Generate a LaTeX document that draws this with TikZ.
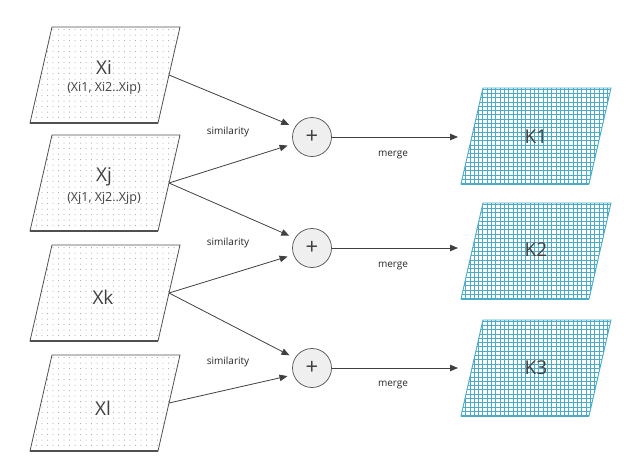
\documentclass[tikz,border=0pt]{standalone}
\usepackage{fontspec}
\setmainfont{Open Sans}
\usetikzlibrary{arrows.meta,calc}
\definecolor{tealg}{HTML}{4BACC6}
\definecolor{txt}{HTML}{404040}
\definecolor{edge}{HTML}{505050}
\definecolor{dotc}{HTML}{9A9A9A}
\definecolor{circfill}{HTML}{EFEFEF}
\begin{document}
\begin{tikzpicture}[x=1pt,y=-1pt,
  bigtxt/.style={text=txt,font=\fontsize{19}{19}\selectfont,inner sep=0pt},
  subtxt/.style={text=txt,font=\fontsize{12.5}{12.5}\selectfont,inner sep=0pt},
  lbl/.style={text=black!85,font=\fontsize{10}{10}\selectfont,inner sep=0pt},
  plusnode/.style={circle,draw=edge,fill=circfill,line width=0.7pt,minimum size=39pt,inner sep=0pt,text=txt,font=\fontsize{22}{22}\selectfont},
  conn/.style={draw=txt,line width=0.8pt,-{Triangle[length=8pt,width=6.5pt]},shorten >=6pt},
  mconn/.style={draw=txt,line width=0.8pt,-{Triangle[length=8pt,width=6.5pt]},shorten >=14pt},
]
\useasboundingbox (0,0) rectangle (633,474);

% left parallelograms
\foreach \n/\t in {xi/27,xj/135,xk/245,xl/355}{
  \begin{scope}
    \clip (52,\t) -- (180,\t) -- (158,\t+96) -- (30,\t+96) -- cycle;
    \foreach \i in {0,...,27}{
      \foreach \j in {0,...,17}{
        \fill[dotc] (31+\i*5.5,\t+2.5+\j*5.5) circle (0.5pt);
      }
    }
  \end{scope}
  \draw[edge,line width=0.8pt] (52,\t) -- (180,\t) -- (158,\t+96) -- (30,\t+96) -- cycle;
  \draw[edge,line width=2pt] (30,\t+96) -- (158,\t+96);
  \coordinate (\n-e) at (169,\t+48);
}

% right parallelograms
\foreach \n/\t in {k1/88,k2/203,k3/320}{
  \begin{scope}
    \clip (483,\t) -- (611,\t) -- (589,\t+96) -- (461,\t+96) -- cycle;
    \foreach \i in {0,...,37}{
      \draw[tealg,line width=0.8pt] (457+\i*4.3,\t-2) -- (457+\i*4.3,\t+98);
    }
    \foreach \j in {0,...,22}{
      \draw[tealg,line width=0.8pt] (455,\t+1+\j*4.3) -- (615,\t+1+\j*4.3);
    }
  \end{scope}
  \draw[tealg,line width=0.9pt] (483,\t) -- (611,\t) -- (589,\t+96) -- (461,\t+96) -- cycle;
  \draw[tealg,line width=2pt] (461,\t+96) -- (589,\t+96);
  \coordinate (\n-w) at (472,\t+48);
}

% texts in left shapes
\node[bigtxt] (xi) at (104,68) {Xi};
\node[subtxt] (xis) at (104,88) {(Xi1, Xi2..Xip)};
\node[bigtxt] (xj) at (104,177) {Xj};
\node[subtxt] (xjs) at (104,198) {(Xj1, Xj2..Xjp)};
\node[bigtxt] (xk) at (103,297) {Xk};
\node[bigtxt] (xl) at (103,408) {Xl};

% texts in right shapes
\node[bigtxt] (k1t) at (536,137) {K1};
\node[bigtxt] (k2t) at (536,250) {K2};
\node[bigtxt] (k3t) at (536,368) {K3};

% circles
\node[plusnode] (c1) at (312,137) {+};
\node[plusnode] (c2) at (312,248) {+};
\node[plusnode] (c3) at (312,368) {+};

% connectors
\draw[conn] (xi-e) -- (c1.150);
\draw[conn] (xj-e) -- (c1.200);
\draw[conn] (xj-e) -- (c2.150);
\draw[conn] (xk-e) -- (c2.200);
\draw[conn] (xk-e) -- (c3.150);
\draw[conn] (xl-e) -- (c3.200);

\draw[mconn] (c1.east) -- (c1.east -| k1-w);
\draw[mconn] (c2.east) -- (c2.east -| k2-w);
\draw[mconn] (c3.east) -- (c3.east -| k3-w);

% labels
\node[lbl] (s1) at (228,132) {similarity};
\node[lbl] (s2) at (228,243) {similarity};
\node[lbl] (s3) at (228,362) {similarity};
\node[lbl] (m1) at (393,155) {merge};
\node[lbl] (m2) at (393,266) {merge};
\node[lbl] (m3) at (393,385) {merge};
\end{tikzpicture}
\end{document}
